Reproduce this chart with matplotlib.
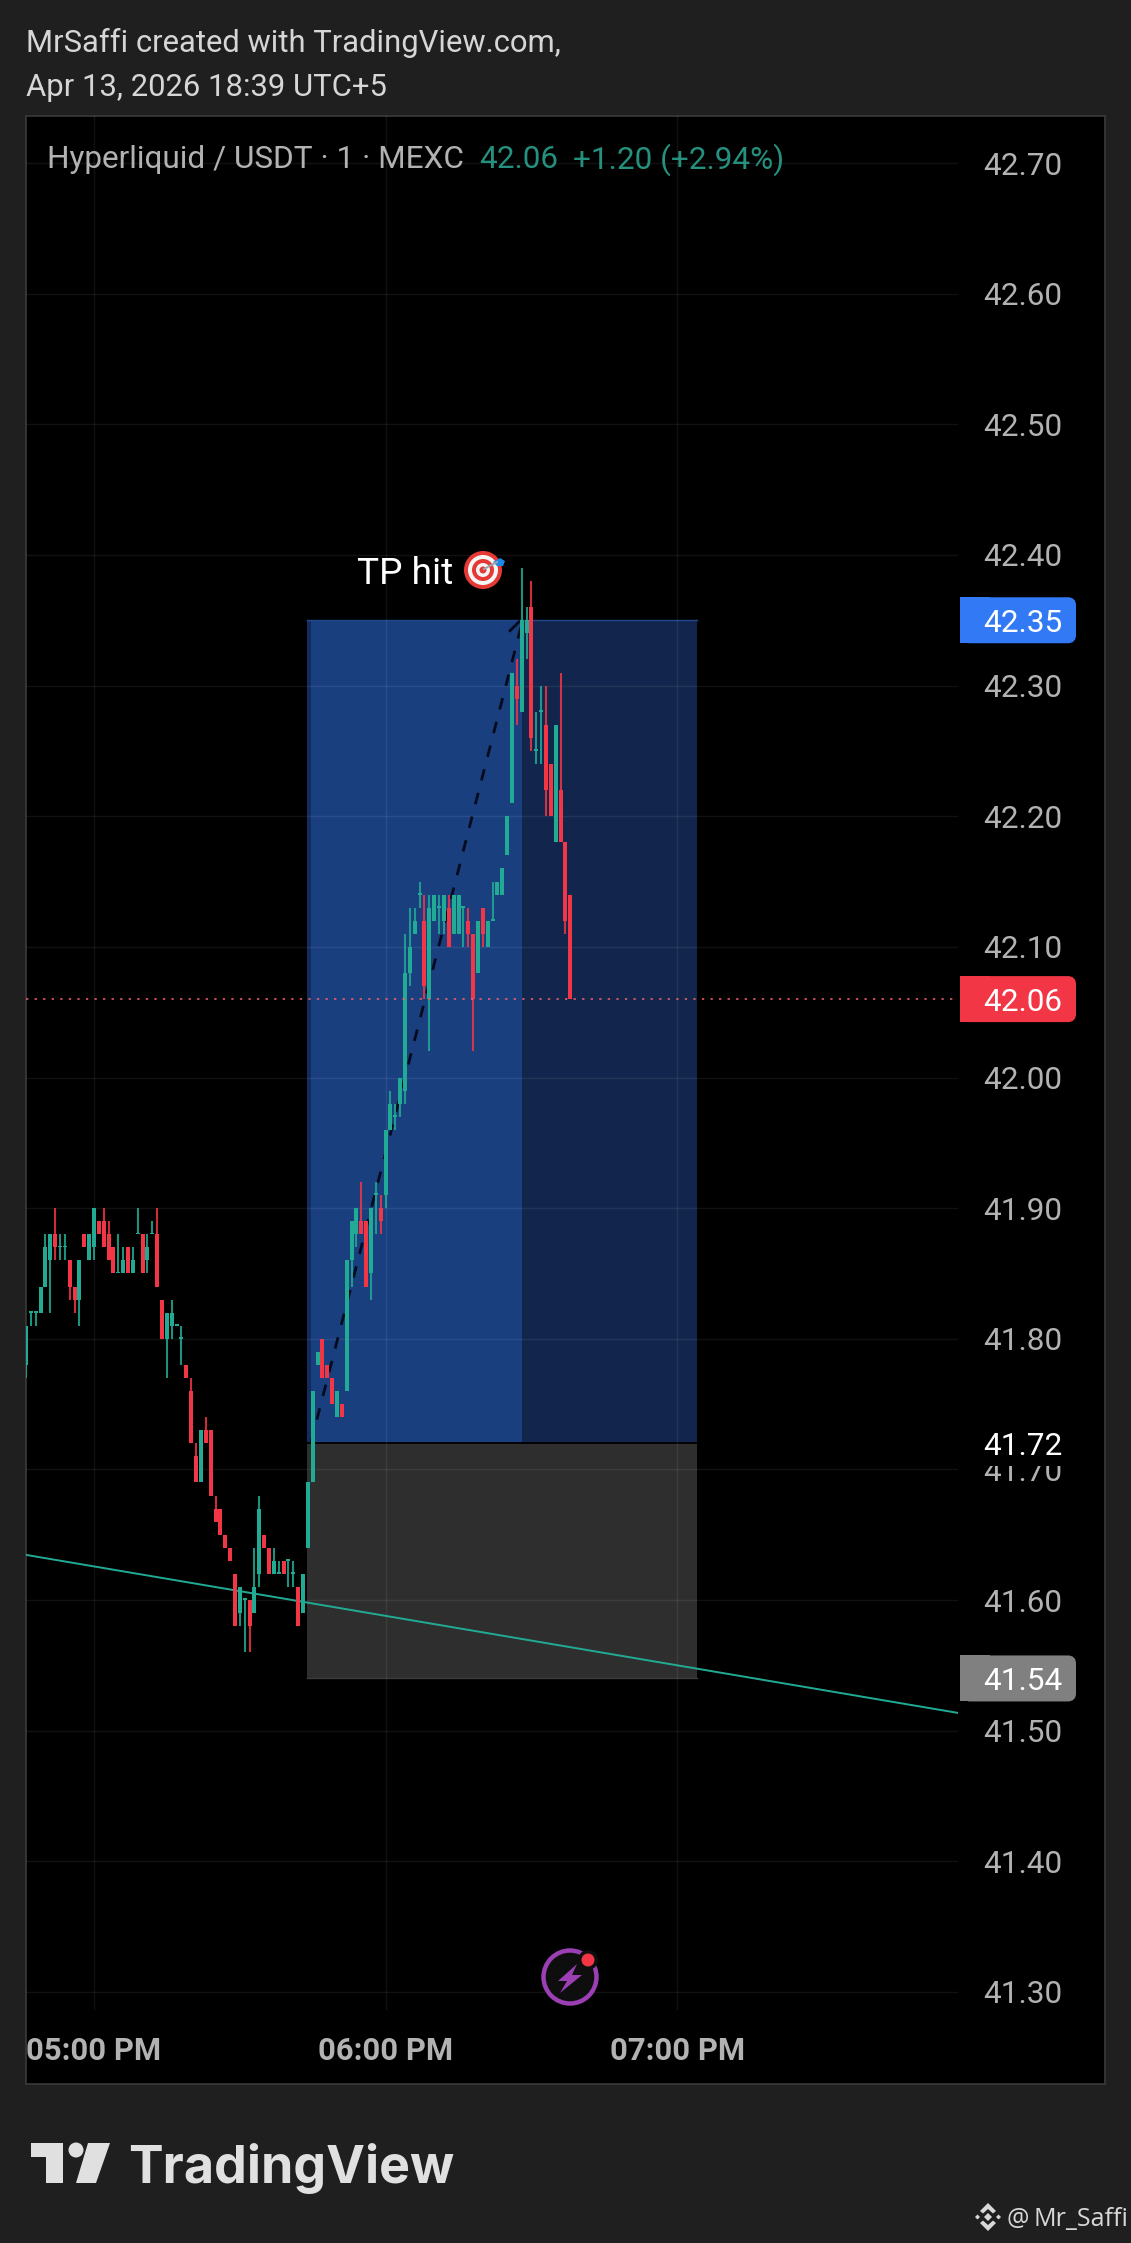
import numpy as np
import matplotlib
matplotlib.use("Agg")
import matplotlib.pyplot as plt
from matplotlib.patches import Rectangle, Circle, Polygon, FancyBboxPatch
from matplotlib.transforms import blended_transform_factory as blend

W, H = 1131, 2243
plt.rcParams['font.family'] = ['Roboto', 'DejaVu Sans']

first_minute = -14   # minutes relative to 05:00 PM
opens = [41.78,41.82,41.82,41.82,41.84,41.86,41.88,41.87,41.87,41.86,41.84,41.83,41.88,41.86,
 41.87,41.89,41.89,41.88,41.87,41.85,41.85,41.87,41.85,41.88,41.88,41.86,41.88,41.88,41.83,41.80,
 41.81,41.81,41.80,41.78,41.76,41.71,41.69,41.73,41.73,41.67,41.67,41.65,41.64,41.62,41.59,41.60,
 41.60,41.59,41.62,41.65,41.64,41.62,41.62,41.63,41.63,41.62,41.61,41.59,41.64,41.69,41.78,41.80,
 41.78,41.77,41.74,41.75,41.76,41.86,41.88,41.89,41.89,41.85,41.91,41.90,41.91,41.96,41.97,41.98,
 41.99,42.08,42.11,42.14,42.12,42.06,42.12,42.13,42.12,42.13,42.11,42.11,42.13,42.12,42.11,42.08,
 42.13,42.10,42.12,42.14,42.14,42.17,42.21,42.30,42.28,42.34,42.36,42.25,42.28,42.27,42.24,42.18,
 42.22,42.18,42.14]
highs = [41.81,41.82,41.82,41.84,41.88,41.88,41.90,41.88,41.88,41.86,41.84,41.86,41.88,41.88,
 41.90,41.89,41.90,41.89,41.87,41.88,41.87,41.87,41.87,41.90,41.88,41.88,41.89,41.90,41.83,41.82,
 41.83,41.81,41.81,41.78,41.77,41.72,41.73,41.74,41.73,41.68,41.67,41.65,41.64,41.62,41.61,41.60,
 41.60,41.64,41.68,41.65,41.64,41.64,41.63,41.63,41.63,41.63,41.61,41.62,41.69,41.76,41.79,41.80,
 41.78,41.77,41.76,41.75,41.86,41.89,41.90,41.92,41.89,41.90,41.92,41.91,41.96,41.99,41.98,42.00,
 42.11,42.13,42.13,42.15,42.14,42.14,42.14,42.14,42.14,42.14,42.14,42.14,42.13,42.13,42.11,42.12,
 42.13,42.12,42.15,42.15,42.16,42.20,42.31,42.32,42.39,42.36,42.38,42.28,42.30,42.30,42.24,42.27,
 42.31,42.18,42.14]
lows = [41.77,41.81,41.81,41.82,41.84,41.82,41.86,41.86,41.86,41.83,41.82,41.81,41.87,41.86,
 41.86,41.88,41.87,41.86,41.85,41.85,41.85,41.85,41.85,41.88,41.85,41.85,41.88,41.84,41.80,41.77,
 41.80,41.81,41.78,41.77,41.72,41.69,41.69,41.72,41.68,41.66,41.65,41.64,41.63,41.58,41.58,41.56,
 41.56,41.59,41.61,41.64,41.62,41.62,41.62,41.62,41.61,41.61,41.58,41.59,41.64,41.69,41.78,41.77,
 41.77,41.75,41.74,41.74,41.76,41.84,41.87,41.88,41.84,41.83,41.88,41.88,41.90,41.96,41.96,41.97,
 41.98,42.07,42.11,42.13,42.06,42.02,42.12,42.11,42.11,42.10,42.11,42.11,42.10,42.10,42.02,42.08,
 42.10,42.10,42.12,42.14,42.14,42.17,42.21,42.27,42.28,42.32,42.25,42.24,42.24,42.20,42.20,42.18,
 42.18,42.11,42.06]
closes = [41.81,41.82,41.82,41.84,41.87,41.88,41.87,41.87,41.87,41.84,41.83,41.86,41.87,41.88,
 41.90,41.88,41.87,41.86,41.85,41.85,41.86,41.85,41.86,41.88,41.85,41.87,41.88,41.84,41.80,41.82,
 41.82,41.81,41.80,41.77,41.72,41.69,41.73,41.72,41.68,41.66,41.65,41.64,41.63,41.58,41.61,41.60,
 41.58,41.61,41.67,41.64,41.62,41.63,41.62,41.62,41.63,41.62,41.58,41.62,41.69,41.76,41.79,41.77,
 41.77,41.75,41.76,41.74,41.86,41.89,41.90,41.88,41.84,41.90,41.91,41.89,41.96,41.98,41.97,42.00,
 42.08,42.10,42.12,42.14,42.07,42.13,42.14,42.13,42.14,42.10,42.14,42.14,42.13,42.11,42.06,42.12,
 42.11,42.12,42.12,42.15,42.16,42.20,42.31,42.29,42.35,42.35,42.26,42.25,42.28,42.22,42.20,42.27,
 42.18,42.12,42.06]

price_ticks = [42.70,42.60,42.50,42.40,42.30,42.20,42.10,42.00,41.90,41.80,41.70,41.60,41.50,41.40,41.30]
time_ticks = [0, 60, 120]
time_labels = ['05:00 PM', '06:00 PM', '07:00 PM']
take_profit, entry, stop = 42.35, 41.72, 41.54
last_price = 42.06
pos_start, pos_split, pos_end = 43.8, 88.0, 124.0
trend_t = [-13.85, 177.8]
trend_p = [41.6345, 41.5136]
path_t = [44.6, 88.0]
path_p = [41.72, 42.347]
jog_t = [85.6, 87.8]
jog_p = [42.342, 42.35]

GREEN, RED = '#22AB94', '#F23645'
BG = '#1F1F1F'

fig = plt.figure(figsize=(W/100, H/100), dpi=100, facecolor=BG)

def px(v):
    return v * 0.72

under = fig.add_axes([0, 0, 1, 1], zorder=0)
under.set_xlim(0, W); under.set_ylim(H, 0); under.axis('off')
under.add_patch(Rectangle((26, 116), 1079, 1968, fc='black', ec='#3A3A3A', lw=1.2))

# main axes: pixels 26..958, 116..2010
ppm, ppu = 4.86, 1306.4
ax = fig.add_axes([26/W, 1-2010/H, (958-26)/W, (2010-116)/H], zorder=1)
ax.patch.set_alpha(0)
ax.set_xlim(-(94-26)/ppm, (958-94)/ppm)
ax.set_ylim(41.30-(2010-1992)/ppu, 42.70+(163-116)/ppu)
for s in ax.spines.values():
    s.set_visible(False)
ax.set_xticks([]); ax.set_yticks([])

# positions
ax.add_patch(Rectangle((pos_start, entry), pos_split-pos_start, take_profit-entry, fc='#1A3F7F', lw=0, zorder=1))
ax.add_patch(Rectangle((pos_split, entry), pos_end-pos_split, take_profit-entry, fc='#12264D', lw=0, zorder=1))
ax.add_patch(Rectangle((pos_start, stop), pos_end-pos_start, entry-stop, fc='#2E2E2E', lw=0, zorder=1))
ax.add_patch(Rectangle((pos_start, entry), 0.8, take_profit-entry, fc='#122C5E', lw=0, zorder=1.1))
ax.plot([pos_start, pos_end], [entry, entry], color='black', lw=1.3, zorder=1.2)
ax.plot([pos_start, pos_end], [take_profit, take_profit], color='#23488A', lw=1, zorder=1.2)
ax.plot([pos_start, pos_end], [stop, stop], color='#3C3C3C', lw=1, zorder=1.2)

# grid
for p in price_ticks:
    ax.axhline(p, color='white', alpha=0.07, lw=1, zorder=1.5)
for t in time_ticks:
    ax.axvline(t, color='white', alpha=0.07, lw=1, zorder=1.5)

# trend line and path
ax.plot(trend_t, trend_p, color='#22AB94', lw=1.4, zorder=2)
ax.plot(path_t, path_p, color='#050A1E', lw=2.0, dashes=(4.2, 4.6), zorder=2.2)
ax.plot(jog_t, jog_p, color='#050A1E', lw=2.0, zorder=2.2)

# candles
o, h, l, c = map(np.array, (opens, highs, lows, closes))
x = first_minute + np.arange(len(o))
col = np.where(c >= o, GREEN, RED)
ax.vlines(x, l, h, colors=col, lw=1.5, zorder=3, alpha=0.85)
bot = np.minimum(o, c)
ht = np.maximum(np.abs(c-o), 0.0013)
ax.bar(x, ht, width=4.0/ppm, bottom=bot, color=col, lw=0, zorder=3.1)

# last price line
ax.plot(ax.get_xlim(), [last_price]*2, color='#F0606E', alpha=0.8, lw=1.4, dashes=(1.2, 3.2), zorder=4)

FS = 31.5

# axis labels drawn in main axes
ytr = ax.get_yaxis_transform()
for p in price_ticks:
    ax.text((1062-26)/932, p, f'{p:.2f}', transform=ytr, ha='right', va='center_baseline',
            color='#B2B2B2', fontsize=px(FS), clip_on=False)

over = fig.add_axes([0, 0, 1, 1], zorder=2)
over.patch.set_alpha(0)
over.set_xlim(0, W); over.set_ylim(H, 0); over.axis('off')

pt = blend(over.transData, ax.transData)
tt = blend(ax.transData, over.transData)

for t, lab in zip(time_ticks, time_labels):
    over.text(t, 2048, lab, transform=tt, ha='center', va='center_baseline', color='#B2B2B2',
              fontsize=px(31), fontweight='bold')

# price tags
def tag(y, fc, txt, color='white'):
    yc = float(over.transData.inverted().transform(ax.transData.transform((0, y)))[1])
    over.add_patch(Rectangle((960, yc-23), 30, 46, fc=fc, lw=0))
    over.add_patch(FancyBboxPatch((966, yc-19), 106, 38, boxstyle='round,pad=0,rounding_size=4',
                                  mutation_aspect=1, fc=fc, ec=fc, lw=8*0.72))
    over.text(1062, y, txt, transform=pt, ha='right', va='center_baseline', color=color, fontsize=px(FS))

yc = float(over.transData.inverted().transform(ax.transData.transform((0, entry)))[1])
over.add_patch(Rectangle((960, yc-22), 116, 45, fc='black', lw=0))
over.text(1062, entry, f'{entry:.2f}', transform=pt, ha='right', va='center_baseline', color='white', fontsize=px(FS))
tag(take_profit, '#3179F5', f'{take_profit:.2f}')
tag(last_price, '#F23645', f'{last_price:.2f}')
tag(stop, '#808080', f'{stop:.2f}')

# header
hdr = '#D6D6D6'
over.text(26, 40, 'MrSaffi created with TradingView.com,', color=hdr, fontsize=px(31), va='center_baseline')
over.text(26, 85, 'Apr 13, 2026 18:39 UTC+5', color=hdr, fontsize=px(31), va='center_baseline')
over.text(47, 156, 'Hyperliquid / USDT · 1 · MEXC', color='#B2B2B2', fontsize=px(FS), va='center_baseline')
over.text(479, 156, '42.06', color='#26907F', fontsize=px(FS), va='center_baseline')
over.text(573, 156, '+1.20 (+2.94%)', color='#26907F', fontsize=px(FS), va='center_baseline')

# annotation
over.text(357, 570, 'TP hit', color='white', fontsize=px(37), va='center_baseline')
ex, ey = 483, 570
for r, cc in zip((19, 15, 11, 7, 3.5), ('#E53935', '#F5F5F5', '#E53935', '#F5F5F5', '#E53935')):
    over.add_patch(Circle((ex, ey), r, fc=cc, lw=0))
over.plot([ex+1, 497], [ey-1, 562], color='#9AA7B0', lw=1.4)
over.add_patch(Polygon([(493, 562), (500, 558), (505, 561), (503, 566), (497, 566)], fc='#1E88E5', lw=0))

# flash icon
fx, fy = 570, 1977
over.add_patch(Circle((fx, fy), 26.5, fc='#0E0E0E', ec='#9C3FB5', lw=3.2))
over.add_patch(Polygon([(577, 1964), (558, 1981), (567, 1981), (560, 1993), (582, 1975), (572, 1975)], fc='#9C3FB5', lw=0))
over.add_patch(Circle((588, 1960), 10, fc='#0E0E0E', lw=0))
over.add_patch(Circle((588, 1960), 6.5, fc='#F23645', lw=0))

# TradingView logo
lg = '#E0E0E0'
over.add_patch(Polygon([(31, 2143), (63, 2143), (63, 2183), (46, 2183), (46, 2157), (31, 2157)], fc=lg, lw=0))
over.add_patch(Circle((76, 2150), 7.5, fc=lg, lw=0))
over.add_patch(Polygon([(88, 2143), (110, 2143), (96, 2183), (76, 2183)], fc=lg, lw=0))
over.text(128, 2183, 'TradingView', color=lg, fontsize=px(52), family=['Inter', 'DejaVu Sans'],
          fontweight='bold', va='baseline')

# Binance watermark
wm = '#D8D8D8'
bx, by = 988, 2217
over.add_patch(Polygon([(bx, by-4), (bx+4, by), (bx, by+4), (bx-4, by)], fc=wm, lw=0))
over.add_patch(Polygon([(bx-13, by), (bx-10.5, by-2.5), (bx-8, by), (bx-10.5, by+2.5)], fc=wm, lw=0))
over.add_patch(Polygon([(bx+13, by), (bx+10.5, by-2.5), (bx+8, by), (bx+10.5, by+2.5)], fc=wm, lw=0))
over.add_patch(Polygon([(bx, by-14), (bx+8, by-6), (bx+5, by-3.5), (bx, by-8), (bx-5, by-3.5), (bx-8, by-6)], fc=wm, lw=0))
over.add_patch(Polygon([(bx, by+14), (bx+8, by+6), (bx+5, by+3.5), (bx, by+8), (bx-5, by+3.5), (bx-8, by+6)], fc=wm, lw=0))
over.text(1006, 2226, '@', color=wm, fontsize=px(25), family=['Open Sans', 'DejaVu Sans'], va='baseline')
over.text(1033, 2226, 'Mr_Saffi', color=wm, fontsize=px(25), family=['Open Sans', 'DejaVu Sans'], va='baseline')

fig.savefig('out.png', dpi=100, facecolor=BG)
